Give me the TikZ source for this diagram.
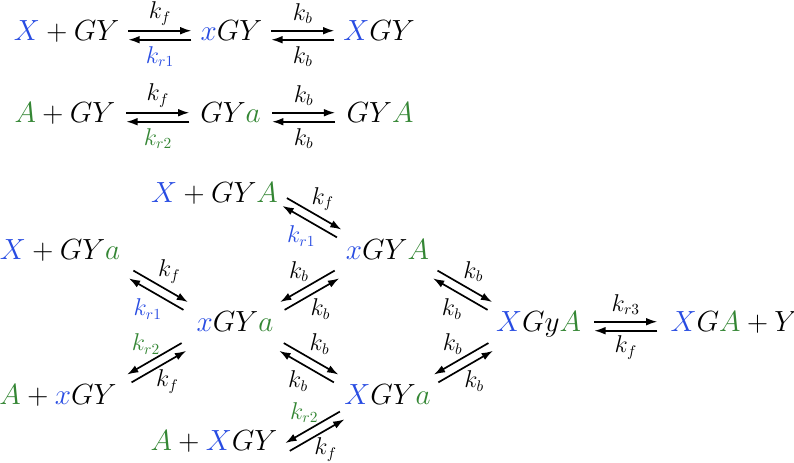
\documentclass[tikz,border=0pt]{standalone}
\usetikzlibrary{calc,arrows.meta}

\definecolor{xblue}{RGB}{40,76,226}
\definecolor{xgreen}{RGB}{52,134,52}
\newcommand{\bl}[1]{\textcolor{xblue}{#1}}
\newcommand{\gr}[1]{\textcolor{xgreen}{#1}}

\tikzset{
  species/.style={anchor=base, inner sep=0pt, text height=0.82em, text depth=0pt,
    font=\fontsize{20.5}{24}\selectfont},
  rxn/.style={-{Latex[length=8pt,width=5.5pt]}, line width=1.2pt},
  rate/.style={inner sep=0pt, font=\fontsize{16}{18}\selectfont}
}

% two opposite arrows between two anchors: [shift]{from}{to}{angle}{side}{fwd}{back}
\newcommand{\eqpair}[7][0,0]{%
  \coordinate (m) at ($(#2)!.5!(#3)+(#1)$);
  \draw[rxn] ([shift={(#4+90:#5*4.5)}]m) ++(#4+180:31.5) -- ++(#4:63);
  \draw[rxn] ([shift={(#4-90:#5*4.5)}]m) ++(#4:31.5) -- ++(#4+180:63);
  \node[rate] at ([shift={(#4+90:#5*21.5)}]m) {#6};
  \node[rate] at ([shift={(#4-90:#5*21.5)}]m) {#7};
}

\begin{document}
\begin{tikzpicture}[x=0.25mm, y=0.25mm]
    \useasboundingbox (0,0) rectangle (794,463);

    % single binding steps
    \node[species] (tX) at (66.5,422) {$\bl{X}+GY$};
    \node[species] (txGY) at (231.5,422) {$\bl{x}GY$};
    \node[species] (tXGY) at (379,422) {$\bl{X}GY$};
    \node[species] (tA) at (65,340) {$\gr{A}+GY$};
    \node[species] (tGYa) at (230.5,340) {$GY\gr{a}$};
    \node[species] (tGYA) at (380,340) {$GY\gr{A}$};

    \eqpair{tX.east}{txGY.west}{0}{1}{$k_f$}{$\bl{k_{r1}}$}
    \eqpair{txGY.east}{tXGY.west}{0}{1}{$k_b$}{$k_b$}
    \eqpair{tA.east}{tGYa.west}{0}{1}{$k_f$}{$\gr{k_{r2}}$}
    \eqpair{tGYa.east}{tGYA.west}{0}{1}{$k_b$}{$k_b$}

    % network
    \node[species] (nXgyA) at (214.5,260) {$\bl{X}+GY\gr{A}$};
    \node[species] (nXgya) at (60,203) {$\bl{X}+GY\gr{a}$};
    \node[species] (nxGYA) at (387.5,203) {$\bl{x}GY\gr{A}$};
    \node[species] (nxGYa) at (235,131) {$\bl{x}GY\gr{a}$};
    \node[species] (nAxGY) at (58,58) {$\gr{A}+\bl{x}GY$};
    \node[species] (nXGYa) at (387.5,58) {$\bl{X}GY\gr{a}$};
    \node[species] (nAXGY) at (214,12) {$\gr{A}+\bl{X}GY$};
    \node[species] (nXGyA) at (538.5,131) {$\bl{X}Gy\gr{A}$};
    \node[species] (nXGAY) at (734,131) {$\bl{X}G\gr{A}+Y$};

    \eqpair[0,8]{nXgyA.east}{nxGYA.west}{-30}{1}{$k_f$}{$\bl{k_{r1}}$}
    \eqpair{nXgya.east}{nxGYa.west}{-30}{1}{$k_f$}{$\bl{k_{r1}}$}
    \eqpair{nxGYa.east}{nxGYA.west}{30}{-1}{$k_b$}{$k_b$}
    \eqpair{nAxGY.east}{nxGYa.west}{30}{-1}{$k_f$}{$\gr{k_{r2}}$}
    \eqpair{nxGYa.east}{nXGYa.west}{-30}{1}{$k_b$}{$k_b$}
    \eqpair[4,-9]{nAXGY.east}{nXGYa.west}{30}{-1}{$k_f$}{$\gr{k_{r2}}$}
    \eqpair{nxGYA.east}{nXGyA.west}{-30}{1}{$k_b$}{$k_b$}
    \eqpair{nXGYa.east}{nXGyA.west}{30}{-1}{$k_b$}{$k_b$}
    \eqpair{nXGyA.east}{nXGAY.west}{0}{1}{$k_{r3}$}{$k_f$}

\end{tikzpicture}
\end{document}
